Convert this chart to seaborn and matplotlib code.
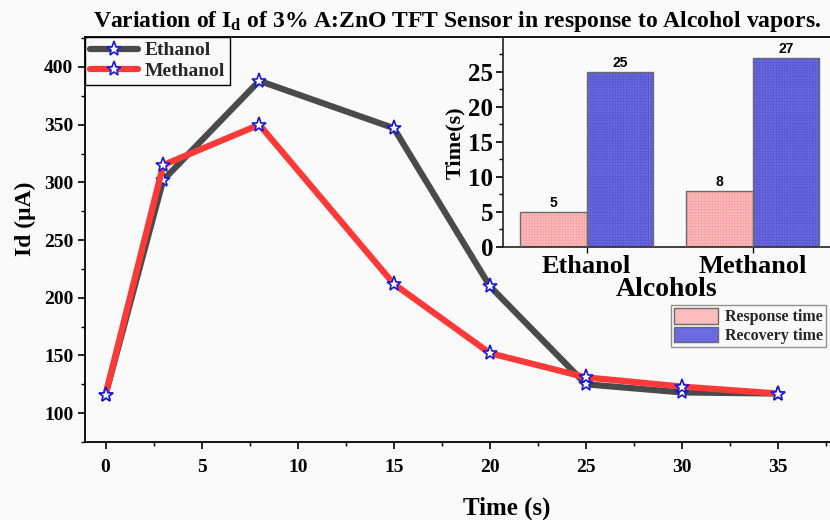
import numpy as np
import pandas as pd
import matplotlib
matplotlib.use("Agg")
import matplotlib.pyplot as plt
from matplotlib.ticker import MultipleLocator
from matplotlib.lines import Line2D
from matplotlib.patches import Patch, Rectangle
import seaborn as sns

# Drain current of the sensor over time for each alcohol vapour
time_s = [0, 3, 8, 15, 20, 25, 30, 35]
ethanol_id = [116, 302, 388, 347, 210, 125, 118, 117]
methanol_id = [116, 315, 350, 212, 152, 131, 123, 117]

# Response / recovery times (s)
alcohols = ["Ethanol", "Methanol"]
response_time = [5, 8]
recovery_time = [25, 27]

sns.set_theme(style="ticks")
plt.rcParams["font.family"] = ["Liberation Serif", "DejaVu Serif"]
plt.rcParams["font.weight"] = "bold"
plt.rcParams["mathtext.fontset"] = "custom"
plt.rcParams["mathtext.rm"] = "Liberation Serif:bold"
plt.rcParams["mathtext.it"] = "Liberation Serif:bold"
plt.rcParams["hatch.linewidth"] = 0.5

BG = "#fafafa"
fig = plt.figure(figsize=(8.3, 5.2), dpi=100, facecolor=BG)

# ---------- main line chart ----------
ax = fig.add_axes([85 / 830, 78 / 520, 745 / 830, 405 / 520], facecolor=BG)
lines_df = pd.DataFrame({
    "Time": time_s * 2,
    "Id": ethanol_id + methanol_id,
    "Alcohol": ["Ethanol"] * len(time_s) + ["Methanol"] * len(time_s),
})
line_colors = {"Ethanol": "#4a4a4a", "Methanol": "#ff3838"}
marker_kw = dict(marker="*", markersize=11, markerfacecolor="white",
                 markeredgecolor="#1a1ad6", markeredgewidth=1.2)
for name in alcohols:
    sns.lineplot(data=lines_df[lines_df["Alcohol"] == name], x="Time", y="Id",
                 color=line_colors[name], linewidth=4.5, ax=ax, **marker_kw)

ax.set_xlim(-1.07, 37.7)
ax.set_ylim(75, 426)
ax.xaxis.set_major_locator(MultipleLocator(5))
ax.xaxis.set_minor_locator(MultipleLocator(2.5))
ax.yaxis.set_major_locator(MultipleLocator(50))
ax.yaxis.set_minor_locator(MultipleLocator(25))
ax.set_yticks(np.arange(100, 401, 50))
ax.tick_params(axis="both", which="major", direction="out", length=5, width=1.2,
               labelsize=14, color="black", labelcolor="black")
ax.tick_params(axis="x", which="major", pad=7)
ax.tick_params(axis="both", which="minor", direction="out", length=3, width=1.0,
               color="black")
for lab in ax.get_xticklabels() + ax.get_yticklabels():
    lab.set_fontweight("bold")
for side in ["left", "bottom", "top", "right"]:
    ax.spines[side].set_color("black")
    ax.spines[side].set_linewidth(1.3)
ax.spines["right"].set_visible(False)

ax.set_xlabel("Time (s)", fontsize=18, fontweight="bold", color="black")
ax.xaxis.set_label_coords((507 - 85) / 745, -0.135)
ax.set_ylabel("Id (\u03bcA)", fontsize=17, fontweight="bold", color="black")
ax.yaxis.set_label_coords(-0.066, 0.55)

handles = [Line2D([], [], color=line_colors[n], linewidth=4.5, **marker_kw) for n in alcohols]
leg = ax.legend(handles, alcohols, loc="upper left", bbox_to_anchor=(0, 1),
                borderaxespad=0, frameon=True, fancybox=False, handlelength=2.5,
                handletextpad=0.3, borderpad=0.25, labelspacing=0.15,
                prop={"family": "Liberation Serif", "weight": "bold", "size": 14})
leg.get_frame().set_edgecolor("black")
leg.get_frame().set_linewidth(1.0)
leg.get_frame().set_facecolor(BG)
leg.get_frame().set_alpha(1)

fig.text(457 / 830, 1 - 22 / 520,
         "Variation of I$_\\mathregular{d}$ of 3% A:ZnO TFT Sensor in response to Alcohol vapors.",
         ha="center", va="center", fontsize=17, fontweight="bold", color="black")

# ---------- inset bar chart ----------
ins = fig.add_axes([503 / 830, (520 - 246.7) / 520, 327 / 830, 208.7 / 520], facecolor=BG)
bars_df = pd.DataFrame({
    "Alcohol": alcohols * 2,
    "Time": response_time + recovery_time,
    "Kind": ["Response time"] * 2 + ["Recovery time"] * 2,
})
kinds = ["Response time", "Recovery time"]
bar_colors = {"Response time": "#ffbcbc", "Recovery time": "#6a6ae2"}
hatch_cols = {"Response time": "#f5a3a3", "Recovery time": "#5757d0"}
sns.barplot(data=bars_df, x="Alcohol", y="Time", hue="Kind", palette=bar_colors,
            width=0.8, saturation=1, linewidth=0, legend=False, ax=ins)
for cont, kind in zip(ins.containers, kinds):
    for p in cont:
        # fine texture in a slightly darker tone, then a grey outline on top
        p.set_hatch("++++++")
        p.set_edgecolor(hatch_cols[kind])
        p.set_linewidth(0)
        ins.add_patch(Rectangle(p.get_xy(), p.get_width(), p.get_height(),
                                fill=False, edgecolor="#6a6a6a", linewidth=1.0, zorder=3))
    ins.bar_label(cont, fontsize=10, fontweight="bold", family="Liberation Sans",
                  padding=1, color="black")

ins.set_xlim(-0.504, 1.466)
ins.set_ylim(0, 29.8)
ins.yaxis.set_major_locator(MultipleLocator(5))
ins.yaxis.set_minor_locator(MultipleLocator(2.5))
ins.tick_params(axis="y", which="major", direction="out", length=5, width=1.2,
                labelsize=18, pad=2, color="black", labelcolor="black")
ins.tick_params(axis="y", which="minor", direction="out", length=3, width=1.0, color="black")
ins.tick_params(axis="x", which="major", direction="out", length=4, width=1.0,
                labelsize=19, pad=2, color="black", labelcolor="black")
for lab in ins.get_xticklabels() + ins.get_yticklabels():
    lab.set_fontweight("bold")
ins.spines["top"].set_visible(False)
ins.spines["right"].set_visible(False)
for side in ["left", "bottom"]:
    ins.spines[side].set_color("#222222")
    ins.spines[side].set_linewidth(1.2)
ins.set_xlabel("Alcohols", fontsize=20, fontweight="bold", color="black", labelpad=-1)
ins.set_ylabel("Time(s)", fontsize=16, fontweight="bold", color="black", labelpad=2)

bar_handles = [Patch(facecolor=bar_colors[k], edgecolor="#6a6a6a") for k in kinds]
leg2 = fig.legend(bar_handles, kinds,
                  loc="upper right", bbox_to_anchor=(826 / 830, 1 - 305 / 520),
                  frameon=True, fancybox=False, handlelength=2.8, handleheight=1.1,
                  handletextpad=0.4, borderpad=0.2, labelspacing=0.1, borderaxespad=0,
                  prop={"family": "Liberation Serif", "weight": "bold", "size": 11.5})
leg2.get_frame().set_edgecolor("#777777")
leg2.get_frame().set_linewidth(1.0)
leg2.get_frame().set_facecolor(BG)

fig.savefig("out.png", dpi=100, facecolor=BG)
